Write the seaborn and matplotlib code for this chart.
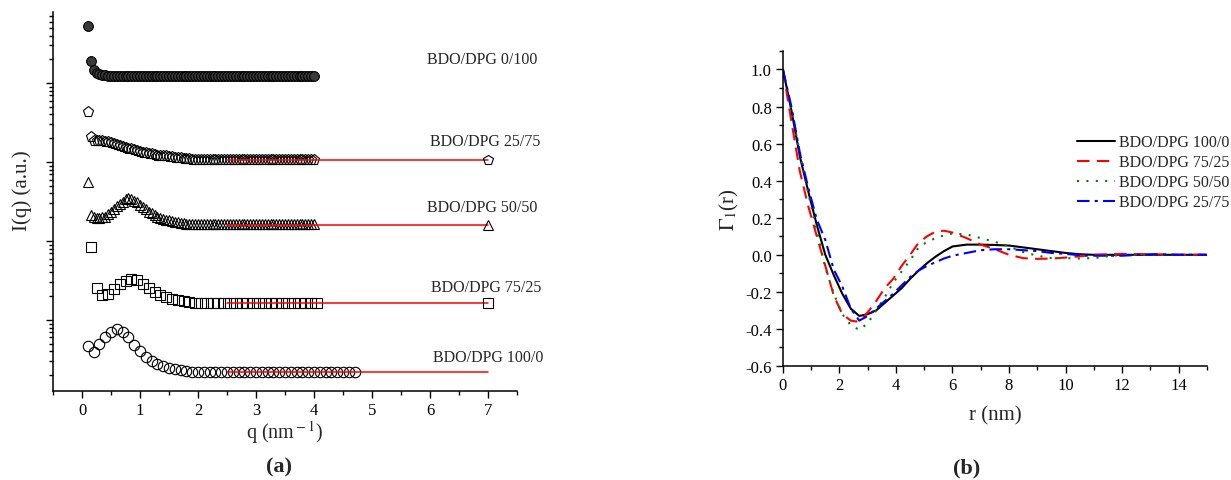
import numpy as np
import matplotlib
matplotlib.use("Agg")
import matplotlib.pyplot as plt
import seaborn as sns
from matplotlib.ticker import MultipleLocator, LogLocator, NullFormatter

# ---------------- data: panel (a), log10 I(q), arbitrary units ----------------
q_fine = np.round(np.arange(0.10, 4.001, 0.05), 2)      # 79 q points
logI_0_100 = [4.72, 4.28, 4.17, 4.13, 4.11, 4.10, 4.10, 4.09, 4.09, 4.09,
              4.09, 4.09, 4.09, 4.09, 4.09, 4.09, 4.09, 4.09, 4.09, 4.09,
              4.09, 4.09, 4.09, 4.09, 4.09, 4.09, 4.09, 4.09, 4.09, 4.09,
              4.09, 4.09, 4.09, 4.09, 4.09, 4.09, 4.09, 4.09, 4.09, 4.09,
              4.09, 4.09, 4.09, 4.09, 4.09, 4.09, 4.09, 4.09, 4.09, 4.09,
              4.09, 4.09, 4.09, 4.09, 4.09, 4.09, 4.09, 4.09, 4.09, 4.09,
              4.09, 4.09, 4.09, 4.09, 4.09, 4.09, 4.09, 4.09, 4.09, 4.09,
              4.09, 4.09, 4.09, 4.09, 4.09, 4.09, 4.09, 4.09, 4.09]
logI_25_75 = [3.63, 3.32, 3.27, 3.26, 3.26, 3.26, 3.25, 3.25, 3.24, 3.23,
              3.21, 3.20, 3.19, 3.18, 3.17, 3.16, 3.15, 3.14, 3.13, 3.12,
              3.11, 3.10, 3.10, 3.09, 3.08, 3.08, 3.07, 3.07, 3.06, 3.06,
              3.05, 3.05, 3.05, 3.04, 3.04, 3.04, 3.03, 3.03, 3.03, 3.03,
              3.03, 3.03, 3.03, 3.03, 3.03, 3.03, 3.03, 3.03, 3.03, 3.03,
              3.03, 3.03, 3.03, 3.03, 3.03, 3.03, 3.03, 3.03, 3.03, 3.03,
              3.03, 3.03, 3.03, 3.03, 3.03, 3.03, 3.03, 3.03, 3.03, 3.03,
              3.03, 3.03, 3.03, 3.03, 3.03, 3.03, 3.03, 3.03, 3.03]
logI_50_50 = [2.75, 2.33, 2.30, 2.29, 2.29, 2.30, 2.31, 2.34, 2.37, 2.40,
              2.44, 2.47, 2.50, 2.53, 2.54, 2.53, 2.51, 2.49, 2.46, 2.43,
              2.40, 2.37, 2.35, 2.33, 2.31, 2.29, 2.28, 2.27, 2.26, 2.25,
              2.24, 2.24, 2.23, 2.23, 2.22, 2.22, 2.22, 2.21, 2.21, 2.21,
              2.21, 2.21, 2.21, 2.21, 2.21, 2.21, 2.21, 2.21, 2.21, 2.21,
              2.21, 2.21, 2.21, 2.21, 2.21, 2.21, 2.21, 2.21, 2.21, 2.21,
              2.21, 2.21, 2.21, 2.21, 2.21, 2.21, 2.21, 2.21, 2.21, 2.21,
              2.21, 2.21, 2.21, 2.21, 2.21, 2.21, 2.21, 2.21, 2.21]
q_75_25 = np.round(np.arange(0.15, 4.051, 0.10), 2)     # 40 q points
logI_75_25 = [1.92, 1.40, 1.32, 1.33, 1.39, 1.45, 1.49, 1.52, 1.51, 1.45,
              1.40, 1.35, 1.32, 1.29, 1.27, 1.25, 1.24, 1.23, 1.22, 1.22,
              1.22, 1.22, 1.22, 1.22, 1.22, 1.22, 1.22, 1.22, 1.22, 1.22,
              1.22, 1.22, 1.22, 1.22, 1.22, 1.22, 1.22, 1.22, 1.22, 1.22]
q_100_0 = np.round(np.arange(0.10, 4.701, 0.10), 2)     # 47 q points
logI_100_0 = [0.67, 0.59, 0.69, 0.78, 0.85, 0.88, 0.85, 0.78, 0.68, 0.61,
              0.53, 0.48, 0.44, 0.42, 0.39, 0.38, 0.37, 0.35, 0.34, 0.34,
              0.34, 0.34, 0.34, 0.34, 0.34, 0.34, 0.34, 0.34, 0.34, 0.34,
              0.34, 0.34, 0.34, 0.34, 0.34, 0.34, 0.34, 0.34, 0.34, 0.34,
              0.34, 0.34, 0.34, 0.34, 0.34, 0.34, 0.34]

# fitted high-q levels (red lines) and the q=7 end points
fit_q = [2.5, 7.0]
fit_logI = {"25/75": 3.03, "50/50": 2.20, "75/25": 1.22, "100/0": 0.34}
end_q = 7.0

# ---------------- data: panel (b), correlation functions ----------------
r_100_0 = [0, 0.3, 0.6, 0.9, 1.2, 1.5, 1.8, 2.1, 2.4, 2.7, 3.0, 3.3, 3.6, 3.9,
           4.2, 4.5, 4.8, 5.1, 5.4, 5.7, 6.0, 6.5, 7.0, 7.5, 8.0, 8.5, 9.0,
           9.5, 10.0, 10.5, 11.0, 12.0, 13.0, 14.0, 15.0]
g_100_0 = [1.0, 0.78, 0.53, 0.34, 0.16, 0.0, -0.11, -0.21, -0.29, -0.33, -0.32,
           -0.30, -0.26, -0.22, -0.18, -0.13, -0.085, -0.045, -0.01, 0.02, 0.045,
           0.055, 0.055, 0.053, 0.05, 0.04, 0.03, 0.02, 0.01, 0.003, 0.0, 0.0,
           0.0, 0.0, 0.0]
r_75_25 = [0, 0.3, 0.6, 0.9, 1.2, 1.5, 1.8, 2.1, 2.4, 2.6, 2.8, 3.0, 3.3, 3.6,
           3.9, 4.2, 4.5, 4.8, 5.1, 5.4, 5.7, 6.0, 6.5, 7.0, 7.5, 8.0, 8.5, 9.0,
           9.5, 10.0, 10.5, 11.0, 12.0, 13.0, 14.0, 15.0]
g_75_25 = [1.0, 0.72, 0.45, 0.26, 0.10, -0.06, -0.22, -0.32, -0.355, -0.36,
           -0.345, -0.31, -0.25, -0.18, -0.13, -0.06, 0.0, 0.065, 0.10, 0.125,
           0.13, 0.12, 0.09, 0.055, 0.03, 0.0, -0.018, -0.022, -0.02, -0.015,
           -0.008, 0.0, 0.005, 0.003, 0.0, 0.0]
r_50_50 = [0, 0.3, 0.6, 0.9, 1.2, 1.5, 1.8, 2.1, 2.4, 2.7, 3.0, 3.3, 3.6, 3.9,
           4.2, 4.5, 4.8, 5.1, 5.4, 5.7, 6.0, 6.5, 7.0, 7.5, 8.0, 8.5, 9.0, 9.5,
           10.0, 10.5, 11.0, 11.5, 12.0, 13.0, 14.0, 15.0]
g_50_50 = [1.0, 0.78, 0.55, 0.33, 0.13, -0.07, -0.21, -0.32, -0.38, -0.405,
           -0.37, -0.30, -0.23, -0.15, -0.09, -0.03, 0.04, 0.07, 0.09, 0.105,
           0.115, 0.11, 0.09, 0.07, 0.045, 0.015, -0.005, -0.018, -0.018, -0.02,
           -0.018, -0.008, 0.0, 0.0, 0.0, 0.0]
r_25_75 = [0, 0.3, 0.6, 0.9, 1.2, 1.5, 1.8, 2.1, 2.4, 2.7, 3.0, 3.3, 3.6, 3.9,
           4.2, 4.5, 4.8, 5.1, 5.4, 5.7, 6.0, 6.5, 7.0, 7.5, 8.0, 8.5, 9.0, 9.5,
           10.0, 10.5, 11.0, 12.0, 13.0, 14.0, 15.0]
g_25_75 = [1.0, 0.80, 0.55, 0.36, 0.19, 0.08, -0.08, -0.17, -0.29, -0.355, -0.33,
           -0.29, -0.25, -0.21, -0.165, -0.12, -0.085, -0.06, -0.04, -0.02,
           -0.005, 0.01, 0.025, 0.03, 0.03, 0.025, 0.02, 0.01, 0.005, -0.002,
           -0.005, -0.005, 0.003, 0.0, 0.0]

# ---------------- style ----------------
sns.set_style("ticks")
plt.rcParams["font.family"] = ["Liberation Serif", "DejaVu Serif"]
plt.rcParams["mathtext.fontset"] = "stix"
plt.rcParams["axes.linewidth"] = 1.1

fig = plt.figure(figsize=(12.31, 4.81), dpi=100)
ax1 = fig.add_axes([0.0431, 0.185, 0.3769, 0.788])
ax2 = fig.add_axes([0.636, 0.237, 0.3444, 0.655])


def pw(v):
    return np.power(10.0, np.asarray(v, dtype=float))


# ---------------- panel (a) ----------------
mk = dict(linestyle="none", markeredgecolor="black", markeredgewidth=0.8)
sns.lineplot(x=q_fine, y=pw(logI_0_100), marker="o", markersize=7,
             markerfacecolor="#3a3a3a", ax=ax1, **mk)
sns.lineplot(x=q_fine, y=pw(logI_25_75), marker="p", markersize=8,
             markerfacecolor="none", ax=ax1, **mk)
sns.lineplot(x=q_fine, y=pw(logI_50_50), marker="^", markersize=7.5,
             markerfacecolor="none", ax=ax1, **mk)
sns.lineplot(x=q_75_25, y=pw(logI_75_25), marker="s", markersize=6.5,
             markerfacecolor="none", ax=ax1, **mk)
sns.lineplot(x=q_100_0, y=pw(logI_100_0), marker="o", markersize=7.5,
             markerfacecolor="none", ax=ax1, **mk)

for key, lv in fit_logI.items():
    sns.lineplot(x=fit_q, y=pw([lv, lv]), color="red", linewidth=1.1, ax=ax1)

end_markers = {"25/75": "p", "50/50": "^", "75/25": "s"}
for key, m in end_markers.items():
    sns.lineplot(x=[end_q], y=pw([fit_logI[key]]), marker=m, markersize=7,
                 markerfacecolor="none", ax=ax1, **mk)

labels_a = [("BDO/DPG 0/100", 5.95, 4.30), ("BDO/DPG 25/75", 6.00, 3.26),
            ("BDO/DPG 50/50", 5.95, 2.43), ("BDO/DPG 75/25", 6.02, 1.42),
            ("BDO/DPG 100/0", 6.05, 0.53)]
for txt, xq, yv in labels_a:
    ax1.text(xq, 10 ** yv, txt, fontsize=11.5, ha="left", va="center")

ax1.set_yscale("log")
ax1.set_xlim(-0.5, 7.5)
ax1.set_ylim(10 ** 0.1, 10 ** 4.9)
ax1.xaxis.set_major_locator(MultipleLocator(1))
ax1.xaxis.set_minor_locator(MultipleLocator(0.5))
ax1.yaxis.set_major_locator(LogLocator(base=10))
ax1.yaxis.set_minor_locator(LogLocator(base=10, subs=np.arange(2, 10)))
ax1.yaxis.set_major_formatter(NullFormatter())
ax1.yaxis.set_minor_formatter(NullFormatter())
ax1.set_xlabel(r"q (nm$^{\rm -1}$)", fontsize=14.5)
ax1.set_ylabel("I(q) (a.u.)", fontsize=15)
ax1.xaxis.set_label_coords(0.5, -0.108)
ax1.xaxis.label.set_va("center")
ax1.yaxis.set_label_coords(-0.067, 0.53)
ax1.yaxis.label.set_va("center")
sns.despine(ax=ax1)

# ---------------- panel (b) ----------------
lw = 1.5
sns.lineplot(x=r_100_0, y=g_100_0, color="black", linewidth=lw,
             label="BDO/DPG 100/0", ax=ax2)
sns.lineplot(x=r_75_25, y=g_75_25, color="red", linewidth=lw,
             label="BDO/DPG 75/25", ax=ax2)
sns.lineplot(x=r_50_50, y=g_50_50, color="green", linewidth=lw,
             label="BDO/DPG 50/50", ax=ax2)
sns.lineplot(x=r_25_75, y=g_25_75, color="blue", linewidth=lw,
             label="BDO/DPG 25/75", ax=ax2)
styles = ["-", (0, (6, 3.5)), (0, (1, 3.5)), (0, (6, 2.5, 1.5, 2.5))]
for line, ls in zip(ax2.get_lines(), styles):
    line.set_linestyle(ls)

ax2.set_xlim(0, 15)
ax2.set_ylim(-0.6, 1.1)
ax2.xaxis.set_major_locator(MultipleLocator(2))
ax2.xaxis.set_minor_locator(MultipleLocator(1))
ax2.yaxis.set_major_locator(MultipleLocator(0.2))
ax2.yaxis.set_minor_locator(MultipleLocator(0.1))
ax2.yaxis.set_major_formatter(matplotlib.ticker.FuncFormatter(
    lambda v, p: f"{v:.1f}".replace("-0.0", "0.0")))
ax2.set_xlabel("r (nm)", fontsize=15)
ax2.set_ylabel(r"$\Gamma_{\rm 1}$(r)", fontsize=15)
ax2.xaxis.set_label_coords(0.5, -0.156)
ax2.xaxis.label.set_va("center")
ax2.yaxis.set_label_coords(-0.127, 0.5)
ax2.yaxis.label.set_va("center")
leg = ax2.legend(loc="upper left", bbox_to_anchor=(0.693, 0.735), frameon=False,
                 fontsize=11.5, handlelength=2.4, handletextpad=0.25,
                 labelspacing=0.25, borderaxespad=0, borderpad=0)
sns.despine(ax=ax2)

for ax in (ax1, ax2):
    ax.tick_params(which="major", direction="out", length=5, width=1,
                   labelsize=12, pad=3, color="black", labelcolor="black")
    ax.tick_params(which="minor", direction="out", length=3, width=1,
                   color="black")
    for s in ax.spines.values():
        s.set_color("black")

fig.text(0.2265, 0.028, "(a)", fontsize=16, fontweight="bold",
         ha="center", va="center")
fig.text(0.785, 0.025, "(b)", fontsize=16, fontweight="bold",
         ha="center", va="center")

fig.savefig("out.png", dpi=100)
